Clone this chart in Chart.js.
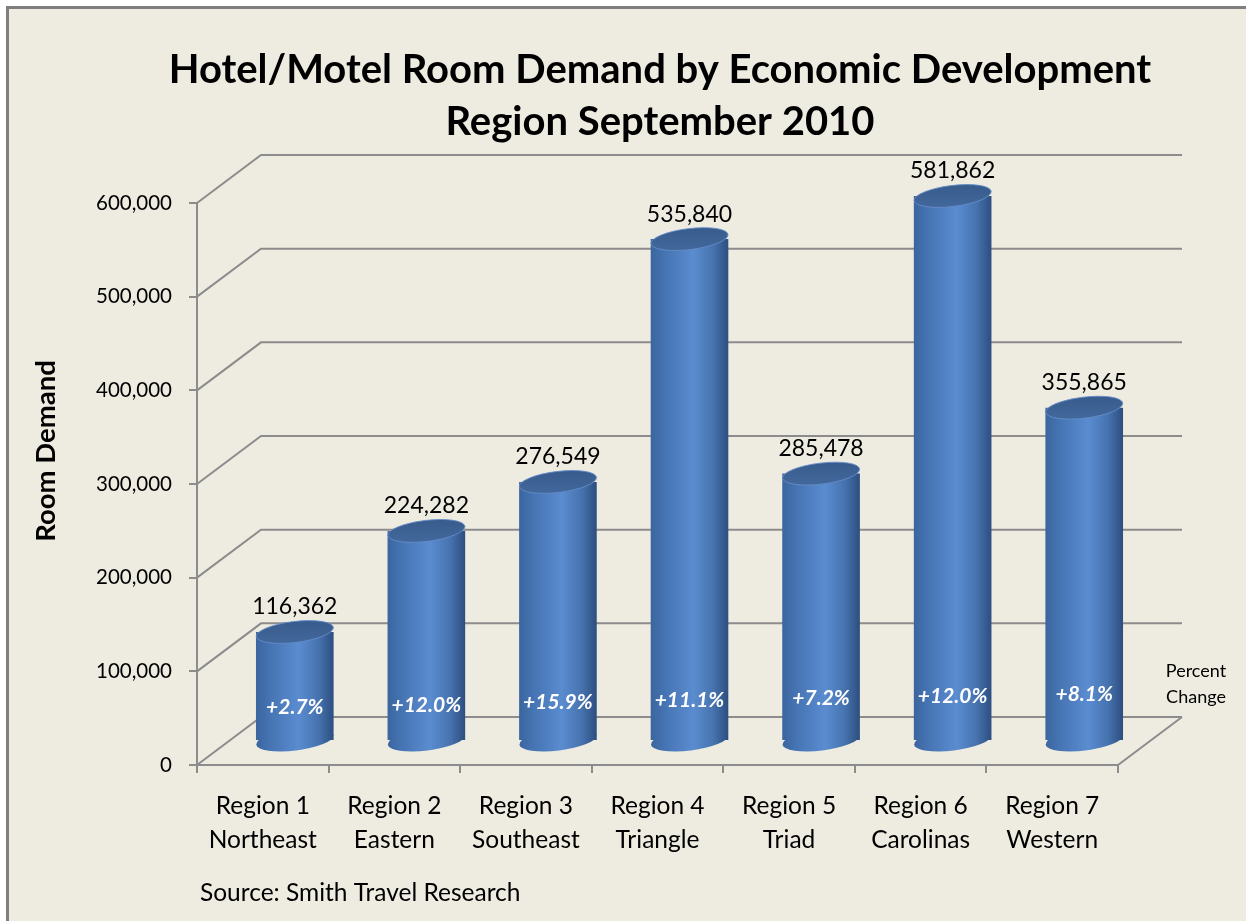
<!DOCTYPE html>
<html>
<head>
<meta charset="utf-8">
<script src="https://cdn.jsdelivr.net/npm/chart.js@4.4.1/dist/chart.umd.min.js"></script>
<style>
html,body{margin:0;padding:0;background:#ffffff;overflow:hidden;width:1246px;height:921px;}
#frame{position:absolute;left:6px;top:6px;width:1300px;height:1000px;background:#eeebe1;border-left:3px solid #7f7f7f;border-top:3px solid #7f7f7f;}
#wrap{position:absolute;left:0;top:0;width:1246px;height:921px;}
</style>
</head>
<body>
<div id="frame"></div>
<div id="wrap"><canvas id="c" width="1246" height="921"></canvas></div>
<script>
// ---- data ----
const regionNames = ['Region 1','Region 2','Region 3','Region 4','Region 5','Region 6','Region 7'];
const regionAreas = ['Northeast','Eastern','Southeast','Triangle','Triad','Carolinas','Western'];
const roomDemand = [116362, 224282, 276549, 535840, 285478, 581862, 355865];
const percentChange = ['+2.7%','+12.0%','+15.9%','+11.1%','+7.2%','+12.0%','+8.1%'];
const yTickValues = [0, 100000, 200000, 300000, 400000, 500000, 600000];
const chartTitle = ['Hotel/Motel Room Demand by Economic Development', 'Region September 2010'];
const yAxisTitle = 'Room Demand';
const sourceNote = 'Source: Smith Travel Research';
const sideNote = ['Percent', 'Change'];

// ---- styling ----
const FONT = 'Lato, "Open Sans", sans-serif';
const GRID = '#8c8c8c';
const DX = 64, DY = 48;          // depth of the 3D walls
const BX = DX / 2, BY = DY / 2;  // cylinders sit at mid-depth
const BAR_PCT = 0.59;
const ROT = -0.12, RY = 10.5;

const labels = regionNames.map((r, i) => [r, regionAreas[i]]);

function barGradient(ctx, cx, hw) {
  const g = ctx.createLinearGradient(cx - hw, 0, cx + hw, 0);
  g.addColorStop(0, '#3a659e');
  g.addColorStop(0.18, '#4674b3');
  g.addColorStop(0.55, '#5a8cd0');
  g.addColorStop(0.8, '#4774b0');
  g.addColorStop(1, '#2d4e80');
  return g;
}

const cylinderPlugin = {
  id: 'cylinder3d',
  beforeDatasetsDraw(chart) {
    const {ctx, chartArea: a, scales: {y}} = chart;
    ctx.save();
    ctx.strokeStyle = GRID;
    ctx.lineWidth = 2;
    ctx.beginPath();
    yTickValues.forEach(v => {
      const py = y.getPixelForValue(v);
      ctx.moveTo(a.left, py);
      ctx.lineTo(a.left + DX, py - DY);
      ctx.lineTo(a.right + DX, py - DY);
    });
    ctx.moveTo(a.right, a.bottom);
    ctx.lineTo(a.right + DX, a.bottom - DY);
    ctx.stroke();
    ctx.restore();
    ctx.save();
    ctx.translate(BX, -BY);
  },
  afterDatasetsDraw(chart) {
    const ctx = chart.ctx;
    const meta = chart.getDatasetMeta(0);
    meta.data.forEach(el => {
      const hw = el.width / 2;
      ctx.beginPath();
      ctx.ellipse(el.x, el.base, hw, RY, ROT, 0, Math.PI * 2);
      ctx.fillStyle = barGradient(ctx, el.x, hw);
      ctx.fill();
      ctx.beginPath();
      ctx.ellipse(el.x, el.y, hw, RY, ROT, 0, Math.PI * 2);
      const g = ctx.createLinearGradient(0, el.y - RY, 0, el.y + RY);
      g.addColorStop(0, '#385c8c');
      g.addColorStop(1, '#42679b');
      ctx.fillStyle = g;
      ctx.fill();
      ctx.strokeStyle = 'rgba(100,140,200,0.9)';
      ctx.lineWidth = 1;
      ctx.stroke();
    });
    ctx.restore();

    // labels
    ctx.save();
    ctx.textAlign = 'center';
    ctx.textBaseline = 'middle';
    meta.data.forEach((el, i) => {
      ctx.fillStyle = '#000';
      ctx.font = '23px ' + FONT;
      ctx.fillText(roomDemand[i].toLocaleString('en-US'), el.x + BX, el.y - BY - 25);
      ctx.fillStyle = '#fff';
      ctx.font = 'italic bold 21px ' + FONT;
      ctx.fillText(percentChange[i], el.x + BX, el.base - BY - 33 - i * 2.2);
    });
    const a = chart.chartArea;
    ctx.fillStyle = '#000';
    // chart title
    ctx.font = 'bold 40px ' + FONT;
    ctx.fillText(chartTitle[0], 660, 70);
    ctx.fillText(chartTitle[1], 660, 122);
    // side note
    ctx.font = '18px ' + FONT;
    ctx.fillText(sideNote[0], a.right + 78, 671);
    ctx.fillText(sideNote[1], a.right + 78, 697);
    // source
    ctx.textAlign = 'left';
    ctx.font = '24.5px ' + FONT;
    ctx.fillText(sourceNote, a.left + 3, 893);
    // y axis title
    ctx.translate(46, 451);
    ctx.rotate(-Math.PI / 2);
    ctx.textAlign = 'center';
    ctx.font = 'bold 27.5px ' + FONT;
    ctx.fillText(yAxisTitle, 0, 0);
    ctx.restore();
  }
};

new Chart(document.getElementById('c'), {
  type: 'bar',
  data: {
    labels: labels,
    datasets: [{
      data: roomDemand,
      categoryPercentage: 1,
      barPercentage: BAR_PCT,
      borderWidth: 0,
      clip: false,
      backgroundColor: (c) => {
        const ch = c.chart;
        const xs = ch.scales && ch.scales.x;
        if (c.type !== 'data' || !xs || !ch.chartArea) return '#4f81bd';
        const cx = xs.getPixelForValue(c.dataIndex);
        const hw = (xs.width / labels.length) * BAR_PCT / 2;
        return barGradient(ch.ctx, cx, hw);
      }
    }]
  },
  options: {
    responsive: false,
    animation: false,
    devicePixelRatio: 1,
    layout: {padding: {left: 10, right: 128, top: 203, bottom: 0}},
    plugins: {
      legend: {display: false},
      tooltip: {enabled: false},
      title: {display: false}
    },
    scales: {
      x: {
        offset: true,
        grid: {display: true, drawOnChartArea: false, drawTicks: true, tickLength: 8, color: GRID, lineWidth: 2, offset: true},
        border: {display: true, color: GRID, width: 2},
        ticks: {color: '#000', font: {family: FONT, size: 24.5, lineHeight: 34 / 24.5}, padding: 16, maxRotation: 0, autoSkip: false},
        afterFit(s) { s.height = 156; }
      },
      y: {
        min: 0,
        max: 600000,
        afterBuildTicks(s) { s.ticks = yTickValues.map(v => ({value: v})); },
        grid: {display: true, drawOnChartArea: false, drawTicks: true, tickLength: 8, color: GRID, lineWidth: 2},
        border: {display: true, color: GRID, width: 2},
        ticks: {color: '#000', font: {family: FONT, size: 20.5}, padding: 17, callback: v => Number(v).toLocaleString('en-US')},
        afterFit(s) { s.width = 187; }
      }
    }
  },
  plugins: [cylinderPlugin]
});
</script>
</body>
</html>
